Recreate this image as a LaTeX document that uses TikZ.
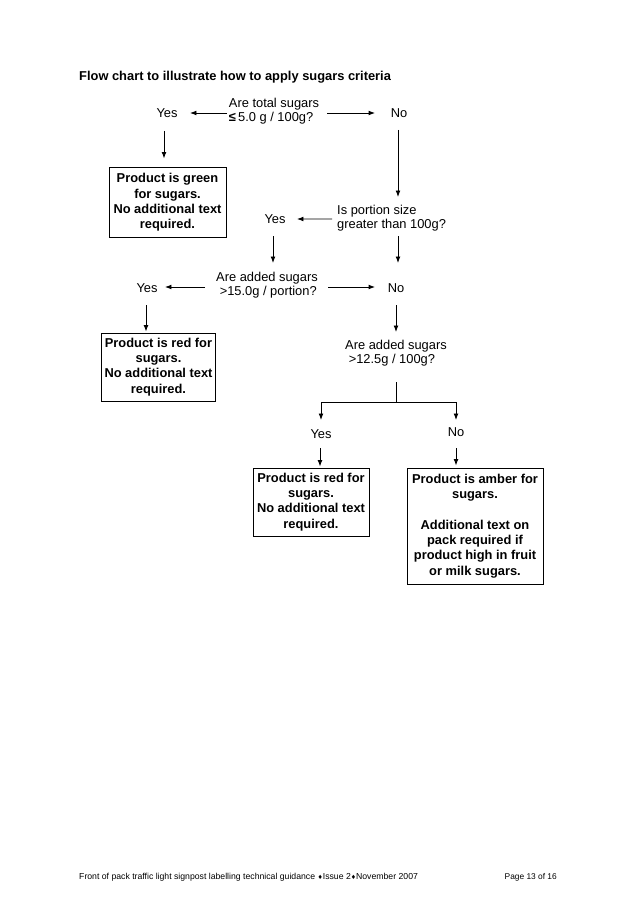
\documentclass[tikz,border=0pt]{standalone}
\usepackage{fontspec}
\setmainfont{Liberation Sans}
\newfontfamily\djv{DejaVu Sans}
\usetikzlibrary{arrows.meta,calc}
\begin{document}
\begin{tikzpicture}[x=0.9326pt,y=-0.9326pt,
  lbl/.style={inner sep=0pt,font=\fontsize{12}{13}\selectfont},
  qlbl/.style={inner sep=0pt,align=left,font=\fontsize{12}{13}\selectfont},
  box/.style={draw,line width=0.9pt,inner sep=0pt,align=center,font=\fontsize{12}{14.3}\selectfont\bfseries},
  arr/.style={line width=0.8pt,-{Latex[length=6pt,width=4.5pt]}},
  ln/.style={line width=0.8pt}]
\useasboundingbox (0,0) rectangle (638,903);
\fill[white] (0,0) rectangle (638,903);
\node[anchor=west,inner sep=0pt,font=\fontsize{12}{14}\selectfont\bfseries] (title) at (79,77) {Flow chart to illustrate how to apply sugars criteria};
% level 1
\node[qlbl] (q1) at (274,111) {Are total sugars\\{\bfseries ≤}\,5.0 g / 100g?};
\node[lbl] (yes1) at (167,113) {Yes};
\node[lbl] (no1) at (399,113) {No};
\node[box,minimum width=109.1pt,minimum height=64.4pt] (green) at (167.5,202.5) {Product is green\\for sugars.\\No additional text\\required.};
% level 2
\node[qlbl,anchor=west] (q2) at (337,218.5) {Is portion size\\greater than 100g?};
\node[lbl] (yes2) at (275,219) {Yes};
% level 3
\node[qlbl] (q3) at (267,285) {Are added sugars\\\ >15.0g / portion?};
\node[lbl] (yes3) at (147,288) {Yes};
\node[lbl] (no3) at (396,288) {No};
\node[box,minimum width=107.2pt,minimum height=63.4pt] (red1) at (158.5,367) {Product is red for\\sugars.\\No additional text\\required.};
% level 4
\node[qlbl] (q4) at (396,353) {Are added sugars\\\ >12.5g / 100g?};
\node[lbl] (yes4) at (321,434) {Yes};
\node[lbl] (no4) at (456,432) {No};
\node[box,minimum width=108.2pt,minimum height=63.4pt] (red2) at (311,502) {Product is red for\\sugars.\\No additional text\\required.};
\node[box,minimum width=126.8pt,minimum height=108.2pt] (amber) at (475,526) {Product is amber for\\sugars.\\[14.3pt]Additional text on\\pack required if\\product high in fruit\\or milk sugars.};
% connectors
\draw[arr] ($(q1)+(-47,2)$) -- ($(yes1)+(23,0)$);
\draw[arr] ($(q1)+(53,2)$) -- ($(no1)+(-24,0)$);
\draw[arr] ($(yes1)+(-3,18)$) -- ($(green.north)+(-3.5,-9)$);
\draw[arr] ($(no1)+(-1,17)$) -- ($(q2.west)+(61,-21.5)$);
\draw[arr] ($(q2.west)+(-5,0.5)$) -- ($(yes2)+(22,0)$);
\draw[arr] ($(yes2)+(-2,17)$) -- ($(q3)+(6,-22)$);
\draw[arr] ($(q2.west)+(61,17.5)$) -- ($(no3)+(2,-25)$);
\draw[arr] ($(q3)+(-62,2)$) -- ($(yes3)+(18,-1)$);
\draw[arr] ($(q3)+(61,2)$) -- ($(no3)+(-21,-1)$);
\draw[arr] ($(yes3)+(-1,17)$) -- ($(red1.north)+(-12.5,-1)$);
\draw[arr] ($(no3)+(0,17)$) -- ($(q4)+(0,-21)$);
\coordinate (br) at ($(q4)+(0,49)$);
\draw[ln] ($(q4)+(0,29)$) -- (br);
\draw[arr] (br) -| ($(yes4)+(0,-14)$);
\draw[arr] (br) -| ($(no4)+(0,-12)$);
\draw[arr] ($(yes4)+(-1,14)$) -- ($(red2.north)+(9,-1)$);
\draw[arr] ($(no4)+(0,16)$) -- ($(amber.north)+(-19,-2)$);
% footer
\node[anchor=west,inner sep=0pt,font=\fontsize{8.1}{9}\selectfont] (foot) at (79,877) {Front of pack traffic light signpost labelling technical guidance {\djv\fontsize{5.5}{9}\selectfont ♦}Issue 2{\djv\fontsize{5.5}{9}\selectfont ♦}November 2007};
\node[anchor=east,inner sep=0pt,font=\fontsize{7.8}{9}\selectfont] (page) at (557,877) {Page 13 of 16};
\end{tikzpicture}
\end{document}
